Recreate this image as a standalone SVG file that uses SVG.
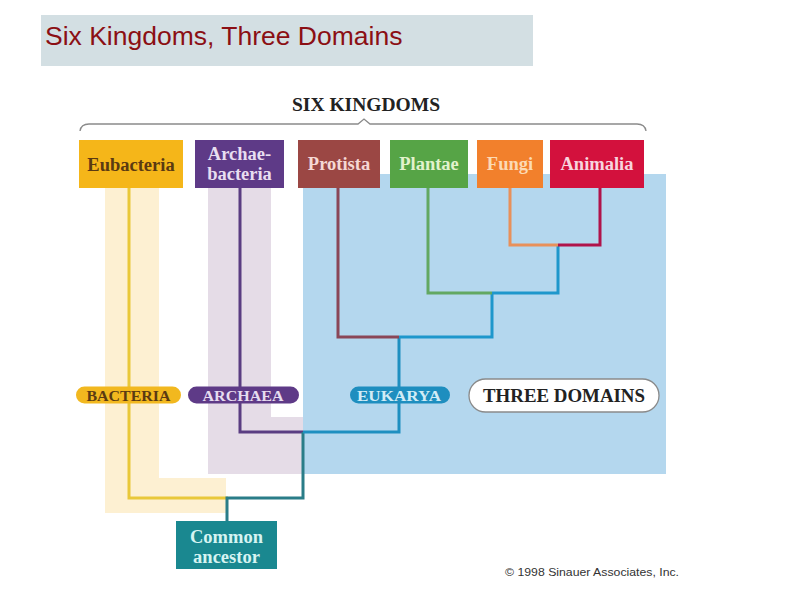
<svg xmlns="http://www.w3.org/2000/svg" width="800" height="600" viewBox="0 0 800 600">
<style>
.box{stroke:none}
.kt{font-family:"Liberation Serif","Times New Roman",serif;font-weight:bold;font-size:18.5px;text-anchor:middle}
.pill{font-family:"Liberation Serif","Times New Roman",serif;font-weight:bold;font-size:15px;text-anchor:middle}
.ln{fill:none;stroke-width:3;stroke-linejoin:miter;stroke-linecap:butt}
</style>
<rect width="800" height="600" fill="#ffffff"/>
<g id="title">
<rect x="41" y="15" width="492" height="51" fill="#d3dfe3"/>
<text x="45" y="45" font-family="Liberation Sans, Arial, sans-serif" font-size="26.5" fill="#8b0f14">Six Kingdoms, Three Domains</text>
</g>
<g id="backgrounds">
<rect x="303" y="174" width="363" height="300" fill="#b4d7ee"/>
<polygon points="208,188 271,188 271,417 303,417 303,474 208,474" fill="#e5dce7"/>
<polygon points="105,188 159,188 159,478 226,478 226,513 105,513" fill="#fdf0d2"/>
</g>
<g id="six-kingdoms-header">
<text x="366" y="111" font-family="Liberation Serif, Times New Roman, serif" font-weight="bold" font-size="19" text-anchor="middle" fill="#222" textLength="148" lengthAdjust="spacingAndGlyphs">SIX KINGDOMS</text>
<path d="M80,131 Q81,124 89,124 H358 L364,119 L370,124 H637 Q645,124 646,131" fill="none" stroke="#8a8a8a" stroke-width="1.3"/>
</g>
<g id="connectors">
<path class="ln" d="M129,188 V498 H228" stroke="#e9c83a"/>
<path class="ln" d="M240,188 V432 H303" stroke="#5a3d82"/>
<path class="ln" d="M227,521 V498 H303 V432" stroke="#2a7d88"/>
<path class="ln" d="M303,432 H399 V337" stroke="#1e8fc0"/>
<path class="ln" d="M338,188 V337 H399" stroke="#8a4657"/>
<path class="ln" d="M399,337 H492 V293" stroke="#1e97cc"/>
<path class="ln" d="M428,188 V293 H492" stroke="#62a862"/>
<path class="ln" d="M492,293 H558 V245" stroke="#1e97cc"/>
<path class="ln" d="M510,188 V245 H558" stroke="#e8905a"/>
<path class="ln" d="M600,188 V245 H558" stroke="#b0134a"/>
</g>
<g id="eubacteria">
<rect class="box" x="79" y="140" width="104" height="48" fill="#f5b619"/>
<text class="kt" x="131" y="171" fill="#5b3a12">Eubacteria</text>
</g>
<g id="archaebacteria">
<rect class="box" x="195" y="140" width="89" height="48" fill="#5e3a87"/>
<text class="kt" x="239.5" y="160" fill="#e8def0">Archae-</text>
<text class="kt" x="239.5" y="180" fill="#e8def0">bacteria</text>
</g>
<g id="protista">
<rect class="box" x="298" y="140" width="82" height="48" fill="#9b4744"/>
<text class="kt" x="339" y="170" fill="#f5d8d4">Protista</text>
</g>
<g id="plantae">
<rect class="box" x="390" y="140" width="78" height="48" fill="#56a446"/>
<text class="kt" x="429" y="170" fill="#e2f2cc">Plantae</text>
</g>
<g id="fungi">
<rect class="box" x="477" y="140" width="66" height="48" fill="#f2802c"/>
<text class="kt" x="510" y="170" fill="#fcdab4">Fungi</text>
</g>
<g id="animalia">
<rect class="box" x="550" y="140" width="94" height="48" fill="#d3113d"/>
<text class="kt" x="597" y="170" fill="#f8d4de">Animalia</text>
</g>
<g id="bacteria-domain">
<rect x="76" y="386.5" width="105" height="17" rx="8.5" fill="#f2b81f"/>
<text class="pill" x="128.5" y="400.5" fill="#5b3a12" textLength="84" lengthAdjust="spacingAndGlyphs">BACTERIA</text>
</g>
<g id="archaea-domain">
<rect x="188" y="386.5" width="111" height="17" rx="8.5" fill="#5e3a87"/>
<text class="pill" x="243" y="400.5" fill="#e6dcef" textLength="81" lengthAdjust="spacingAndGlyphs">ARCHAEA</text>
</g>
<g id="eukarya-domain">
<rect x="350" y="386.5" width="100" height="17" rx="8.5" fill="#1e8ebf"/>
<text class="pill" x="399" y="400.5" fill="#d2ecf6" textLength="84" lengthAdjust="spacingAndGlyphs">EUKARYA</text>
</g>
<g id="three-domains">
<rect x="469" y="379" width="190" height="33" rx="16.5" fill="#ffffff" stroke="#8a8a8a" stroke-width="1.3"/>
<text x="564" y="402" font-family="Liberation Serif, Times New Roman, serif" font-weight="bold" font-size="18" text-anchor="middle" fill="#222" textLength="162" lengthAdjust="spacingAndGlyphs">THREE DOMAINS</text>
</g>
<g id="common-ancestor">
<rect x="176" y="521" width="101" height="48" fill="#1a8890"/>
<text class="kt" x="226.5" y="543" fill="#d6f4f2">Common</text>
<text class="kt" x="226.5" y="563" fill="#d6f4f2">ancestor</text>
</g>
<text x="505" y="576" font-family="Liberation Sans, Arial, sans-serif" font-size="11" fill="#333" textLength="174" lengthAdjust="spacingAndGlyphs">© 1998 Sinauer Associates, Inc.</text>
</svg>
